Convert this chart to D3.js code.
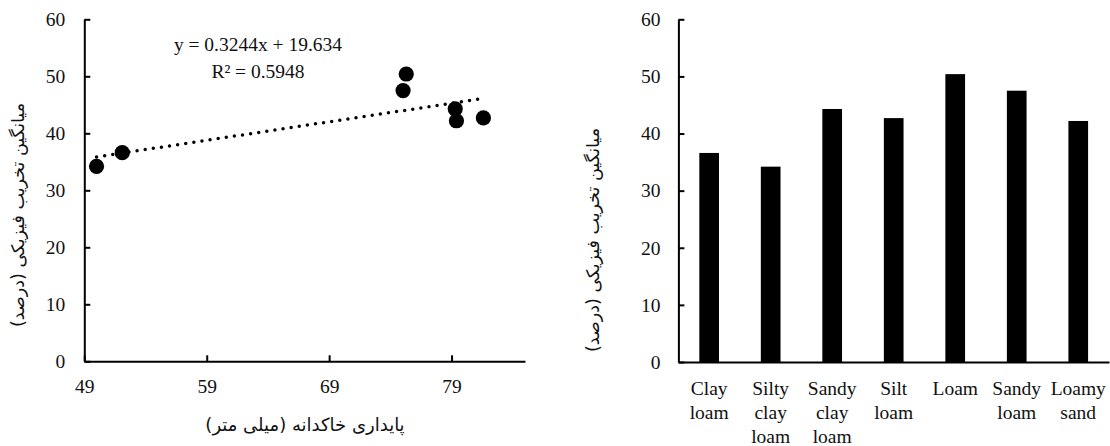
<!DOCTYPE html>
<html>
<head>
<meta charset="utf-8">
<script src="https://cdn.jsdelivr.net/npm/d3@7"></script>
<style>
  html, body { margin: 0; padding: 0; background: #fff; }
  svg { display: block; }
</style>
</head>
<body>
<svg id="chart" width="1110" height="446"></svg>
<script>
// ---------- data ----------
const aggregateStability = [50.0, 52.1, 75.04, 75.3, 79.3, 79.4, 81.6];   // x (mm)
const physicalDegradation = [34.2, 36.6, 47.5, 50.4, 44.3, 42.2, 42.7];  // y (%)
const trendSlope = 0.3244;
const trendIntercept = 19.634;
const equationText = "y = 0.3244x + 19.634";
const r2Text = "R\u00B2 = 0.5948";

const xTicks = [49, 59, 69, 79];
const yTicks = [0, 10, 20, 30, 40, 50, 60];

const soilTextures = ["Clay loam", "Silty clay loam", "Sandy clay loam", "Silt loam", "Loam", "Sandy loam", "Loamy sand"];
const textureMeans = [36.6, 34.2, 44.3, 42.7, 50.4, 47.5, 42.2];

const xTitle = "پایداری خاکدانه (میلی متر)";
const yTitle = "میانگین  تخریب فیزیکی (درصد)";

// ---------- drawing ----------
const svg = d3.select("#chart");
const LAT = '"Liberation Serif", "Times New Roman", serif';
const FA = '"DejaVu Sans", sans-serif';
const LAT_SIZE = 19.5;

function latText(sel) {
  sel.style("font-family", LAT).style("font-size", LAT_SIZE + "px").style("fill", "#111");
}
function faText(sel, size) {
  sel.style("font-family", FA).style("font-size", size + "px").style("fill", "#111");
}

function styleAxis(g) {
  g.attr("font-family", null).attr("font-size", null);
  g.select(".domain").attr("stroke", "#000").attr("stroke-width", 2);
  g.selectAll(".tick line").attr("stroke", "#000").attr("stroke-width", 2);
  g.selectAll(".tick text").call(latText);
}

// ===== Left: scatter =====
const x1 = d3.scaleLinear().domain([49, 85]).range([84.3, 525]);
const y1 = d3.scaleLinear().domain([0, 60]).range([361.3, 19.3]);

const gL = svg.append("g");

gL.append("g")
  .attr("transform", `translate(0,${y1(0)})`)
  .call(d3.axisBottom(x1).tickValues(xTicks).tickSize(-6).tickSizeOuter(0).tickPadding(18).tickFormat(d3.format("d")))
  .call(styleAxis);

gL.append("g")
  .attr("transform", `translate(${x1(49)},0)`)
  .call(d3.axisLeft(y1).tickValues(yTicks).tickSize(-6).tickSizeOuter(0).tickPadding(19).tickFormat(d3.format("d")))
  .call(styleAxis);

// trendline
const xMin = d3.min(aggregateStability), xMax = d3.max(aggregateStability);
gL.append("line")
  .attr("x1", x1(xMin)).attr("y1", y1(trendSlope * xMin + trendIntercept))
  .attr("x2", x1(xMax)).attr("y2", y1(trendSlope * xMax + trendIntercept))
  .attr("stroke", "#000")
  .attr("stroke-width", 3.5)
  .attr("stroke-linecap", "round")
  .attr("stroke-dasharray", "0 8.2");

gL.selectAll("circle.pt")
  .data(aggregateStability.map((v, i) => [v, physicalDegradation[i]]))
  .join("circle")
  .attr("class", "pt")
  .attr("cx", d => x1(d[0]))
  .attr("cy", d => y1(d[1]))
  .attr("r", 7.6)
  .attr("fill", "#000");

gL.append("text").attr("x", 258).attr("y", 51)
  .attr("text-anchor", "middle").text(equationText).call(latText);
gL.append("text").attr("x", 258).attr("y", 78)
  .attr("text-anchor", "middle").text(r2Text).call(latText);

gL.append("text").attr("x", 305).attr("y", 431)
  .attr("text-anchor", "middle").attr("direction", "rtl").text(xTitle).call(faText, 18);

gL.append("text")
  .attr("transform", "translate(24,215) rotate(-90)")
  .attr("text-anchor", "middle").attr("direction", "rtl").text(yTitle).call(faText, 17.5);

// ===== Right: bars =====
const x2 = d3.scaleBand().domain(soilTextures).range([678.4, 1109]).paddingInner(0.68).paddingOuter(0.34);
const y2 = d3.scaleLinear().domain([0, 60]).range([362, 19.3]);

const gR = svg.append("g");

gR.selectAll("rect.bar")
  .data(soilTextures.map((c, i) => [c, textureMeans[i]]))
  .join("rect")
  .attr("class", "bar")
  .attr("x", d => x2(d[0]))
  .attr("width", x2.bandwidth())
  .attr("y", d => y2(d[1]))
  .attr("height", d => y2(0) - y2(d[1]))
  .attr("fill", "#000");

const xAx2 = gR.append("g")
  .attr("transform", `translate(0,${y2(0)})`)
  .call(d3.axisBottom(x2).tickSize(0).tickSizeOuter(0).tickPadding(19))
  .call(styleAxis);

xAx2.selectAll(".tick text").each(function(d) {
  const t = d3.select(this);
  const words = d.split(" ");
  t.text(null);
  words.forEach((w, i) => {
    t.append("tspan").attr("x", 0).attr("dy", i === 0 ? "0.71em" : "24px").text(w);
  });
}).attr("dy", null);

gR.append("g")
  .attr("transform", `translate(678.4,0)`)
  .call(d3.axisLeft(y2).tickValues(yTicks).tickSize(-6).tickSizeOuter(0).tickPadding(18).tickFormat(d3.format("d")))
  .call(styleAxis);

gR.append("text")
  .attr("transform", "translate(599,240) rotate(-90)")
  .attr("text-anchor", "middle").attr("direction", "rtl").text(yTitle).call(faText, 17.5);
</script>
</body>
</html>
